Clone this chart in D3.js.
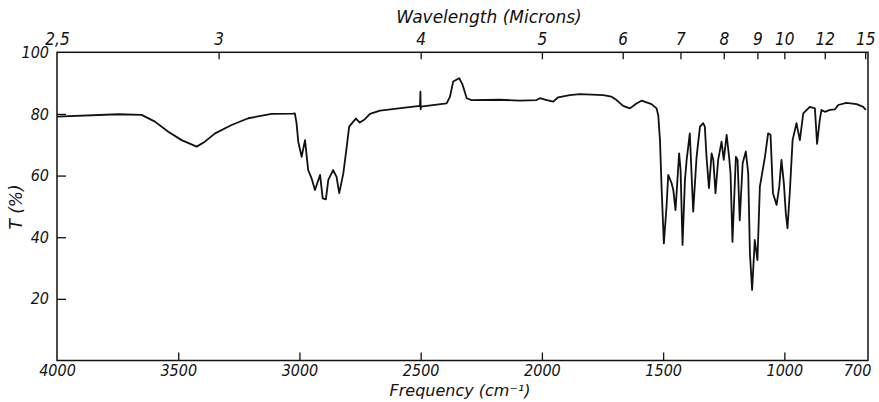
<!DOCTYPE html>
<html>
<head>
<meta charset="utf-8">
<script src="https://cdn.jsdelivr.net/npm/d3@7"></script>
<style>
  body { margin: 0; background: #fff; }
  svg text { font-family: "DejaVu Sans Condensed", "DejaVu Sans", sans-serif; font-style: italic; fill: #111; }
  svg text.title { font-family: "DejaVu Sans", sans-serif; }
</style>
</head>
<body>
<div id="ir_chart"></div>
<script>
// spectrum: frequency (cm-1) and transmittance (%)
let wavenumbers = [4000, 3747, 3651, 3596, 3541, 3486, 3424, 3390, 3348, 3280, 3211, 3115, 3026, 3019,
    3012, 3005, 2991, 2977, 2964, 2950, 2936, 2915, 2904, 2891, 2881, 2861, 2847, 2836, 2819, 2805,
    2795, 2778, 2767, 2751, 2730, 2709, 2668, 2599, 2503, 2501, 2500, 2499, 2393, 2379, 2366, 2341,
    2327, 2310, 2290, 2173, 2091, 2022, 2008, 1984, 1953, 1933, 1885, 1843, 1747, 1713, 1692, 1665,
    1637, 1610, 1589, 1548, 1527, 1520, 1513, 1506, 1497, 1486, 1479, 1465, 1458, 1449, 1434, 1428,
    1420, 1410, 1403, 1390, 1376, 1362, 1348, 1335, 1328, 1321, 1311, 1300, 1293, 1284, 1273, 1259,
    1250, 1238, 1228, 1222, 1214, 1200, 1193, 1184, 1172, 1159, 1149, 1142, 1133, 1122, 1111, 1101,
    1080, 1067, 1057, 1047, 1032, 1021, 1012, 1002, 994, 987, 977, 966, 950, 936, 922, 895, 874,
    865, 854, 847, 833, 812, 791, 778, 744, 702, 675, 664];
let transmittance = [79.1, 79.9, 79.7, 77.5, 74.2, 71.5, 69.4, 71.0, 73.7, 76.4, 78.6, 80.0, 80.1, 80.2,
    77.0, 71.0, 66.1, 71.5, 61.8, 59.1, 55.3, 60.2, 52.6, 52.3, 58.6, 61.8, 59.6, 54.3, 60.7, 69.4,
    75.9, 77.5, 78.5, 77.2, 78.3, 80.0, 81.1, 81.7, 82.6, 87.2, 81.5, 82.4, 83.4, 85.6, 90.5, 91.6,
    89.4, 85.1, 84.5, 84.6, 84.3, 84.5, 85.1, 84.6, 84.0, 85.4, 86.1, 86.4, 86.1, 85.6, 84.5, 82.6,
    81.8, 83.4, 84.3, 83.2, 81.8, 79.5, 71.5, 55.3, 38.0, 49.9, 60.2, 57.5, 55.3, 48.8, 67.2, 61.8,
    37.5, 58.6, 65.1, 73.7, 48.3, 66.1, 75.9, 77.0, 75.9, 66.1, 55.9, 67.2, 65.1, 54.3, 65.1, 71.0,
    65.1, 73.2, 66.1, 60.7, 38.5, 66.1, 65.1, 45.5, 64.0, 67.8, 60.7, 34.8, 22.9, 39.1, 32.6, 56.4,
    66.1, 73.7, 73.2, 54.3, 50.5, 56.4, 65.1, 57.5, 47.8, 42.9, 55.3, 71.5, 77.0, 71.5, 80.2, 82.3, 81.8,
    70.3, 78.0, 81.3, 80.7, 81.3, 81.5, 82.9, 83.6, 83.2, 82.3, 81.3];

let freqTicks = [4000, 3500, 3000, 2500, 2000, 1500, 1000, 700];
let micronTicks = [2.5, 3, 4, 5, 6, 7, 8, 9, 10, 12, 15];
let micronLabels = ["2,5", "3", "4", "5", "6", "7", "8", "9", "10", "12", "15"];
let tTicks = [20, 40, 60, 80, 100];

let margin = {top: 52.3, right: 11, bottom: 41.5, left: 57};
let svgWidth = 879, svgHeight = 402;
let plotW = svgWidth - margin.left - margin.right;
let plotH = svgHeight - margin.top - margin.bottom;

let svg = d3.select("#ir_chart").append("svg")
    .attr("width", svgWidth)
    .attr("height", svgHeight);

let g = svg.append("g")
    .attr("transform", "translate(" + margin.left + "," + margin.top + ")");

let xScale = d3.scaleLinear().domain([4000, 655]).range([0, plotW]);
let yScale = d3.scaleLinear().domain([0, 100]).range([plotH, 0]);

/** bottom axis: frequency */
let xAxis = d3.axisBottom(xScale)
    .tickValues(freqTicks)
    .tickFormat(d3.format("d"))
    .tickSizeInner(-8)
    .tickSizeOuter(0)
    .tickPadding(4);
let xAx = g.append("g")
    .attr("transform", "translate(0," + plotH + ")")
    .call(xAxis);
xAx.selectAll(".tick line").filter(d => d === 4000 || d === 700).remove();

/** top axis: wavelength in microns */
let topAxis = d3.axisTop(xScale)
    .tickValues(micronTicks.map(m => 10000 / m))
    .tickFormat((d, i) => micronLabels[i])
    .tickSizeInner(-7)
    .tickSizeOuter(0)
    .tickPadding(7);
let topAx = g.append("g").call(topAxis);
topAx.selectAll(".tick line").filter((d, i) => i === 0).remove();

/** left axis: transmittance */
let yAxis = d3.axisLeft(yScale)
    .tickValues(tTicks)
    .tickSizeInner(-9)
    .tickSizeOuter(0)
    .tickPadding(8);
let yAx = g.append("g").call(yAxis);
yAx.selectAll(".tick line").filter(d => d === 100).remove();

g.selectAll(".domain").remove();
g.selectAll(".tick line").attr("stroke", "#111").attr("stroke-width", 1.3);
g.selectAll(".tick text")
    .style("font-size", "17px")
    .attr("fill", "#111");
yAx.selectAll(".tick text").style("font-size", "16px");
xAx.selectAll(".tick text").style("font-size", "16px");

/** frame */
g.append("rect")
    .attr("x", 0)
    .attr("y", 0)
    .attr("width", plotW)
    .attr("height", plotH)
    .attr("fill", "none")
    .attr("stroke", "#111")
    .attr("stroke-width", 1.5);

/** spectrum */
let spectrum = wavenumbers.map((w, i) => ({w: w, t: transmittance[i]}));
let line = d3.line()
    .x(d => xScale(d.w))
    .y(d => yScale(d.t));

g.append("path")
    .datum(spectrum)
    .attr("d", line)
    .attr("fill", "none")
    .attr("stroke", "#111")
    .attr("stroke-width", 1.8)
    .attr("stroke-linejoin", "round");

/** titles */
svg.append("text")
    .attr("class", "title")
    .text("Wavelength (Microns)")
    .style("font-size", "17px")
    .style("text-anchor", "middle")
    .attr("transform", "translate(" + 489 + "," + 23 + ")");

svg.append("text")
    .attr("class", "title")
    .text("Frequency (cm\u207B\u00B9)")
    .style("font-size", "16px")
    .style("text-anchor", "middle")
    .attr("transform", "translate(" + 460 + "," + 396 + ")");

svg.append("text")
    .attr("class", "title")
    .text("T (%)")
    .style("font-size", "17px")
    .style("text-anchor", "middle")
    .attr("transform", "translate(" + 22 + "," + 207 + ") rotate(-90)");
</script>
</body>
</html>
